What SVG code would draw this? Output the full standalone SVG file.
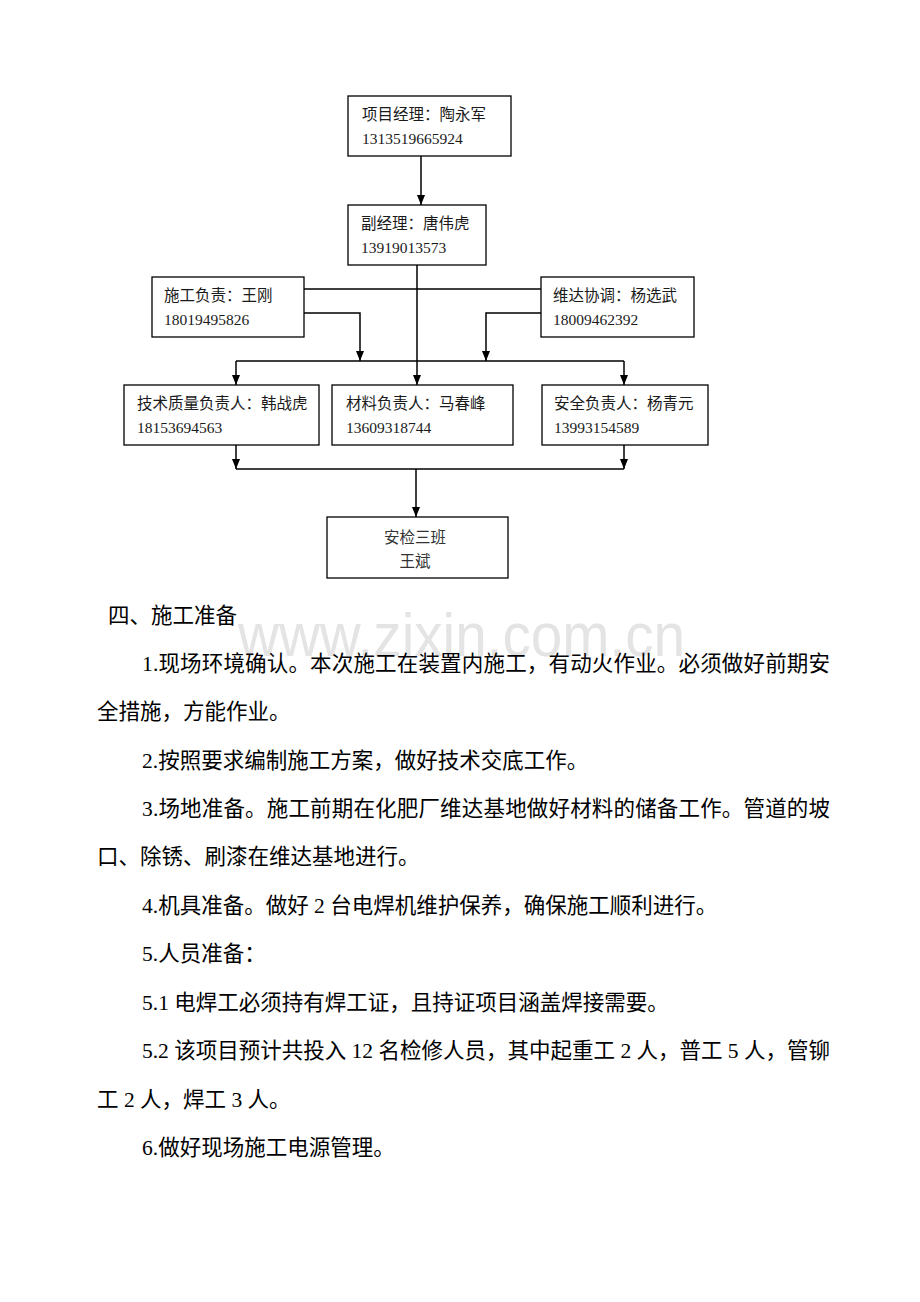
<svg xmlns="http://www.w3.org/2000/svg" width="920" height="1302" viewBox="0 0 920 1302">
<defs>
<style>
.box{fill:#fff;stroke:#000;stroke-width:1.3}
.t{font-family:'Liberation Serif','Noto Sans CJK SC',serif;font-size:15.5px;fill:#1a1a1a}
.c{text-anchor:middle;fill:#333}
.line{fill:none;stroke:#000;stroke-width:1.5}
.p{font-family:'Liberation Serif','Noto Sans CJK SC',serif;font-size:21.5px;fill:#000}
.wm{font-family:'Liberation Sans',Arial,sans-serif;font-size:62px;fill:#e4e4e4}
</style>
<marker id="ah" markerUnits="userSpaceOnUse" markerWidth="10" markerHeight="8" refX="10" refY="4" orient="auto">
<path d="M0,0 L10,4 L0,8 z" fill="#000"/>
</marker>
</defs>
<rect width="920" height="1302" fill="#fff"/>

<text class="wm" x="238" y="656" textLength="447" lengthAdjust="spacingAndGlyphs">www.zixin.com.cn</text>

<g id="connectors">
<path class="line" d="M421,156 V205" marker-end="url(#ah)"/>
<path class="line" d="M417,265 V385" marker-end="url(#ah)"/>
<path class="line" d="M304,289 H541"/>
<path class="line" d="M304,313 H360 V361" marker-end="url(#ah)"/>
<path class="line" d="M541,313 H486 V361" marker-end="url(#ah)"/>
<path class="line" d="M236,361 H624"/>
<path class="line" d="M236,361 V385" marker-end="url(#ah)"/>
<path class="line" d="M624,361 V385" marker-end="url(#ah)"/>
<path class="line" d="M236,445 V469" marker-end="url(#ah)"/>
<path class="line" d="M624,445 V469" marker-end="url(#ah)"/>
<path class="line" d="M236,469 H624"/>
<path class="line" d="M416,469 V517" marker-end="url(#ah)"/>
</g>

<g id="pm">
<rect class="box" x="348" y="96" width="163" height="60"/>
<text class="t" x="362" y="120">项目经理：陶永军</text>
<text class="t" x="362" y="144">1313519665924</text>
</g>
<g id="dpm">
<rect class="box" x="348" y="205" width="138" height="60"/>
<text class="t" x="361" y="229">副经理：唐伟虎</text>
<text class="t" x="361" y="253">13919013573</text>
</g>
<g id="construction">
<rect class="box" x="152" y="277" width="152" height="60"/>
<text class="t" x="164" y="301">施工负责：王刚</text>
<text class="t" x="164" y="325">18019495826</text>
</g>
<g id="coord">
<rect class="box" x="541" y="277" width="153" height="60"/>
<text class="t" x="553" y="301">维达协调：杨选武</text>
<text class="t" x="553" y="325">18009462392</text>
</g>
<g id="tech">
<rect class="box" x="124" y="385" width="195" height="60"/>
<text class="t" x="137" y="409">技术质量负责人：韩战虎</text>
<text class="t" x="137" y="433">18153694563</text>
</g>
<g id="material">
<rect class="box" x="332" y="385" width="181" height="60"/>
<text class="t" x="346" y="409">材料负责人：马春峰</text>
<text class="t" x="346" y="433">13609318744</text>
</g>
<g id="safety">
<rect class="box" x="542" y="385" width="166" height="60"/>
<text class="t" x="554" y="409">安全负责人：杨青元</text>
<text class="t" x="554" y="433">13993154589</text>
</g>
<g id="team">
<rect class="box" x="327" y="517" width="181" height="61"/>
<text class="t c" x="415" y="543">安检三班</text>
<text class="t c" x="415" y="567">王斌</text>
</g>

<g id="body">
<text class="p" x="108" y="623">四、施工准备</text>
<text class="p" x="142" y="671" textLength="688" lengthAdjust="spacing">1.现场环境确认。本次施工在装置内施工，有动火作业。必须做好前期安</text>
<text class="p" x="97" y="719">全措施，方能作业。</text>
<text class="p" x="142" y="768">2.按照要求编制施工方案，做好技术交底工作。</text>
<text class="p" x="142" y="816" textLength="688" lengthAdjust="spacing">3.场地准备。施工前期在化肥厂维达基地做好材料的储备工作。管道的坡</text>
<text class="p" x="97" y="864">口、除锈、刷漆在维达基地进行。</text>
<text class="p" x="142" y="913">4.机具准备。做好 2 台电焊机维护保养，确保施工顺利进行。</text>
<text class="p" x="142" y="961">5.人员准备：</text>
<text class="p" x="142" y="1010">5.1 电焊工必须持有焊工证，且持证项目涵盖焊接需要。</text>
<text class="p" x="142" y="1058" textLength="688" lengthAdjust="spacing">5.2 该项目预计共投入 12 名检修人员，其中起重工 2 人，普工 5 人，管铆</text>
<text class="p" x="97" y="1107">工 2 人，焊工 3 人。</text>
<text class="p" x="142" y="1155">6.做好现场施工电源管理。</text>
</g>
</svg>
